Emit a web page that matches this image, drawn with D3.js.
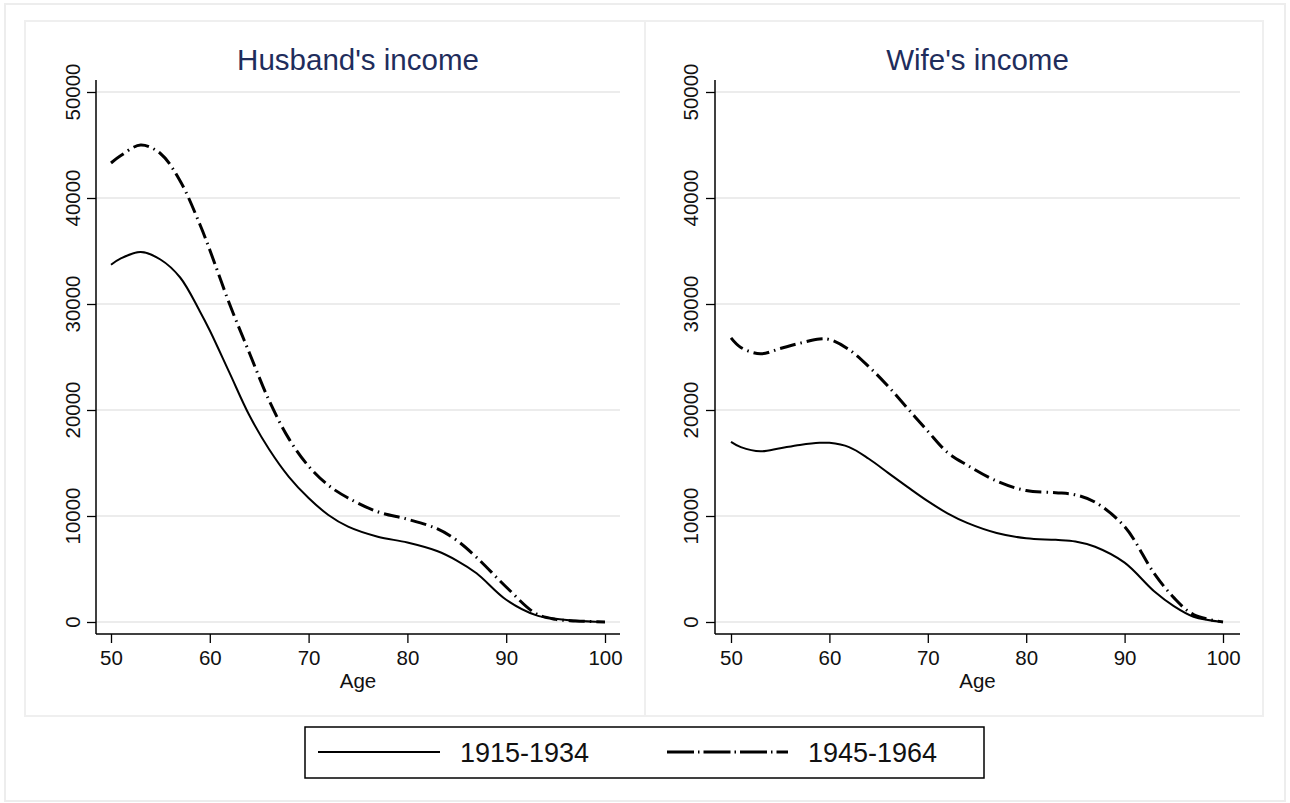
<!DOCTYPE html>
<html>
<head>
<meta charset="utf-8">
<script src="https://cdn.jsdelivr.net/npm/d3@7"></script>
<style>
  html, body { margin: 0; padding: 0; background: #ffffff; }
  svg { display: block; }
  text { font-family: "Liberation Sans", Arial, Helvetica, sans-serif; }
</style>
</head>
<body>
<svg id="chart" width="1290" height="803"></svg>
<script>
// Age grid shared by both panels
const ages = [50, 51, 53, 55, 57, 59, 60, 62, 64, 66, 68, 70, 72, 74, 77, 80, 83, 85, 87, 90, 93, 95, 97, 100];

// Husband's income by cohort
const husband1915 = [33700, 34300, 34900, 34200, 32500, 29300, 27500, 23500, 19500, 16300, 13700, 11700, 10100, 9000, 8050, 7500, 6700, 5800, 4600, 2100, 650, 300, 120, 0];
const husband1945 = [43300, 44000, 45000, 44200, 41600, 37500, 35100, 30000, 25400, 20900, 17300, 14700, 12900, 11700, 10400, 9700, 8800, 7700, 6100, 3300, 800, 250, 100, 0];

// Wife's income by cohort
const wife1915 = [17000, 16500, 16100, 16400, 16700, 16900, 16900, 16500, 15400, 14050, 12700, 11400, 10250, 9350, 8400, 7900, 7750, 7600, 7100, 5600, 2900, 1500, 500, 0];
const wife1945 = [26800, 25900, 25300, 25800, 26300, 26700, 26650, 25700, 24100, 22200, 20100, 18000, 16000, 14800, 13300, 12400, 12200, 12000, 11300, 9000, 4600, 2300, 700, 0];

const panelTitles = ["Husband's income", "Wife's income"];
const cohortLabels = ["1915-1934", "1945-1964"];
const xTicks = [50, 60, 70, 80, 90, 100];
const yTicks = [0, 10000, 20000, 30000, 40000, 50000];
const xLabel = "Age";

const svg = d3.select("#chart");

// Outer frame and the two panel boxes
svg.append("rect").attr("x", 5).attr("y", 4).attr("width", 1280).attr("height", 797)
  .attr("fill", "#ffffff").attr("stroke", "#ededed").attr("stroke-width", 2);

const panels = [
  { title: panelTitles[0], s1: husband1915, s2: husband1945, box: [25, 21, 620, 695], axisX: 96, x0: 111, x1: 605, xEnd: 620, ylab: 72 },
  { title: panelTitles[1], s1: wife1915, s2: wife1945, box: [645, 21, 618, 695], axisX: 715, x0: 731, x1: 1223, xEnd: 1240, ylab: 690 }
];

const yBottom = 622, yTop = 92, axisY = 634, axisTop = 80;
const dashDot = "16,5,1.5,5";
const tickFont = 20.5;

panels.forEach(p => {
  svg.append("rect").attr("x", p.box[0]).attr("y", p.box[1]).attr("width", p.box[2]).attr("height", p.box[3])
    .attr("fill", "#ffffff").attr("stroke", "#efefef").attr("stroke-width", 2);

  const x = d3.scaleLinear().domain([50, 100]).range([p.x0, p.x1]);
  const y = d3.scaleLinear().domain([0, 50000]).range([yBottom, yTop]);

  const g = svg.append("g");

  // horizontal grid
  g.selectAll("line.grid").data(yTicks).enter().append("line")
    .attr("class", "grid")
    .attr("x1", p.axisX).attr("x2", p.xEnd)
    .attr("y1", d => y(d)).attr("y2", d => y(d))
    .attr("stroke", "#ececec").attr("stroke-width", 2);

  // y axis
  const yAxis = d3.axisLeft(y).tickValues(yTicks).tickSize(9).tickFormat(d3.format("d"));
  const ya = g.append("g").attr("transform", `translate(${p.axisX},0)`).call(yAxis);
  ya.select(".domain").remove();
  ya.selectAll(".tick line").attr("stroke", "#000").attr("stroke-width", 1.3);
  ya.selectAll(".tick text").remove();
  g.append("line").attr("x1", p.axisX).attr("x2", p.axisX).attr("y1", axisTop).attr("y2", axisY)
    .attr("stroke", "#000").attr("stroke-width", 1.5);
  g.selectAll("text.ytick").data(yTicks).enter().append("text")
    .attr("class", "ytick")
    .attr("transform", d => `translate(${p.ylab},${y(d)}) rotate(-90)`)
    .attr("text-anchor", "middle").attr("dominant-baseline", "central")
    .attr("font-size", tickFont).attr("fill", "#111")
    .text(d => d);

  // x axis
  const xAxis = d3.axisBottom(x).tickValues(xTicks).tickSize(9).tickFormat(d3.format("d"));
  const xa = g.append("g").attr("transform", `translate(0,${axisY})`).call(xAxis);
  xa.select(".domain").remove();
  xa.selectAll(".tick line").attr("stroke", "#000").attr("stroke-width", 1.3);
  xa.selectAll(".tick text").attr("font-size", tickFont).attr("fill", "#111")
    .attr("font-family", "Liberation Sans, Arial, sans-serif").attr("dy", "0.92em");
  g.append("line").attr("x1", p.axisX).attr("x2", p.xEnd).attr("y1", axisY).attr("y2", axisY)
    .attr("stroke", "#000").attr("stroke-width", 1.5);

  g.append("text").attr("x", (p.axisX + p.xEnd) / 2).attr("y", 688)
    .attr("text-anchor", "middle").attr("font-size", tickFont).attr("fill", "#111").text(xLabel);

  // title
  g.append("text").attr("x", (p.axisX + p.xEnd) / 2).attr("y", 70)
    .attr("text-anchor", "middle").attr("font-size", 29.5).attr("fill", "#1f2d5c").text(p.title);

  // series
  const line = d3.line().x(d => x(d[0])).y(d => y(d[1])).curve(d3.curveCatmullRom.alpha(0.5));
  g.append("path").datum(ages.map((a, i) => [a, p.s1[i]]))
    .attr("d", line).attr("fill", "none").attr("stroke", "#000").attr("stroke-width", 2);
  g.append("path").datum(ages.map((a, i) => [a, p.s2[i]]))
    .attr("d", line).attr("fill", "none").attr("stroke", "#000").attr("stroke-width", 3)
    .attr("stroke-dasharray", dashDot);
});

// Legend
const lg = svg.append("g");
lg.append("rect").attr("x", 305).attr("y", 727).attr("width", 679).attr("height", 51)
  .attr("fill", "#ffffff").attr("stroke", "#000").attr("stroke-width", 1.5);
lg.append("line").attr("x1", 318).attr("x2", 440).attr("y1", 752).attr("y2", 752)
  .attr("stroke", "#000").attr("stroke-width", 2);
lg.append("text").attr("x", 460).attr("y", 762).attr("font-size", 27).attr("fill", "#111").text(cohortLabels[0]);
lg.append("line").attr("x1", 667).attr("x2", 788).attr("y1", 752).attr("y2", 752)
  .attr("stroke", "#000").attr("stroke-width", 3).attr("stroke-dasharray", "27,4,1.5,4");
lg.append("text").attr("x", 808).attr("y", 762).attr("font-size", 27).attr("fill", "#111").text(cohortLabels[1]);
</script>
</body>
</html>
